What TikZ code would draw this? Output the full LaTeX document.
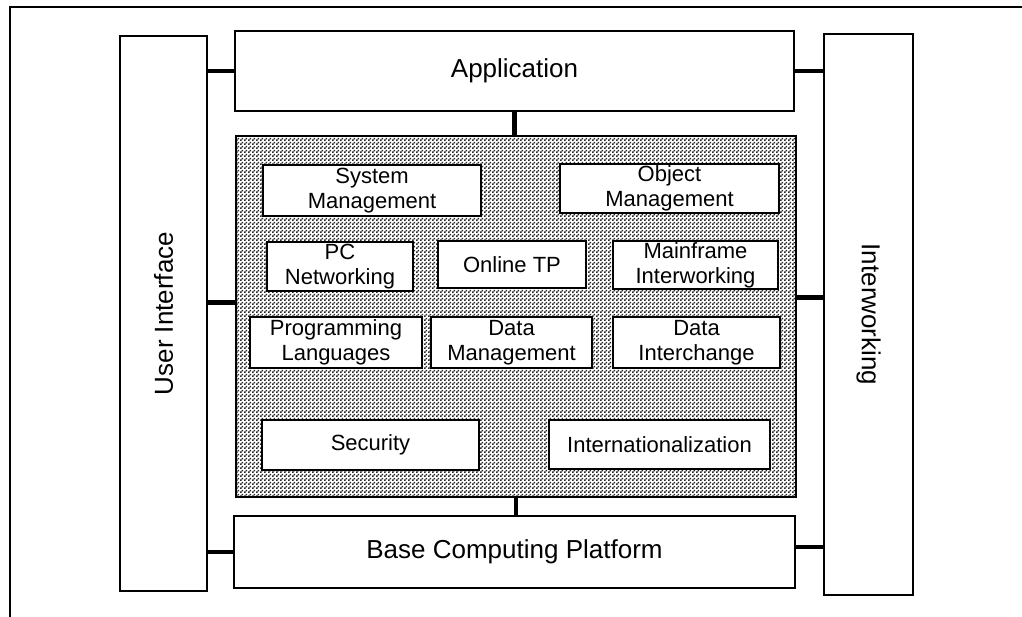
\documentclass[tikz,border=0pt]{standalone}
\usepackage{fontspec}
\setmainfont{Liberation Sans}
\usetikzlibrary{patterns}
\pgfdeclarepatternformonly{finechecker}{\pgfpointorigin}{\pgfpoint{4pt}{4pt}}{\pgfpoint{4pt}{4pt}}{%
  \pgfpathrectangle{\pgfpointorigin}{\pgfpoint{2pt}{2pt}}%
  \pgfpathrectangle{\pgfpoint{2pt}{2pt}}{\pgfpoint{2pt}{2pt}}%
  \pgfusepath{fill}}
\tikzset{
  box/.style={draw=black, line width=1.8pt, fill=white, rectangle, inner sep=0pt, align=center},
  bigbox/.style={box, font=\fontsize{26}{30}\selectfont},
  smallbox/.style={box, font=\fontsize{22}{25}\selectfont},
  link/.style={line width=4.5pt},
}
\begin{document}
\begin{tikzpicture}[x=1pt,y=-1pt]
\useasboundingbox (0,0) rectangle (1022,616);
\clip (0,0) rectangle (1022,616);
\draw[line width=1.5pt] (10,7) rectangle (1040,640);
% side and layer boxes
\node[bigbox, minimum width=87pt, minimum height=555pt] (ui) at (163.5,313.5) {\rotatebox{90}{User Interface}};
\node[bigbox, minimum width=89pt, minimum height=561pt] (iw) at (868.5,314.5) {\rotatebox{-90}{Interworking}};
\node[bigbox, minimum width=559pt, minimum height=80pt] (app) at (514.5,71) {Application};
\node[bigbox, minimum width=561pt, minimum height=72pt] (base) at (514.5,552) {Base Computing Platform};
\node[draw=black, line width=2pt, pattern=finechecker, pattern color=black!85, rectangle, minimum width=560pt, minimum height=361pt, inner sep=0pt] (core) at (516,316.5) {};
% inner boxes
\node[smallbox, minimum width=218pt, minimum height=51pt] (sysm) at (372,190.5) {System\\Management};
\node[smallbox, minimum width=219pt, minimum height=49pt] (objm) at (669.5,188.5) {Object\\Management};
\node[smallbox, minimum width=146pt, minimum height=49pt] (pcn) at (340,266.5) {PC\\Networking};
\node[smallbox, minimum width=148pt, minimum height=47pt] (otp) at (512,264.5) {Online TP};
\node[smallbox, minimum width=165pt, minimum height=48pt] (mfi) at (695.5,265) {Mainframe\\Interworking};
\node[smallbox, minimum width=172pt, minimum height=51pt] (prog) at (336,342.5) {Programming\\Languages};
\node[smallbox, minimum width=161pt, minimum height=51pt] (dm) at (511.5,342.5) {Data\\Management};
\node[smallbox, minimum width=167pt, minimum height=51pt] (di) at (696.5,342.5) {Data\\Interchange};
\node[smallbox, minimum width=217pt, minimum height=50pt] (sec) at (370.5,445) {Security};
\node[smallbox, minimum width=221pt, minimum height=49pt] (intl) at (659.5,444.5) {Internationalization};
% connectors
\draw[link] (app.west) -- (app.west -| ui.east);
\draw[link] (app.east) -- (app.east -| iw.west);
\draw[link] (base.west) -- (base.west -| ui.east);
\draw[link] ([yshift=5pt]base.east) -- ([yshift=5pt]base.east -| iw.west);
\draw[link] ([yshift=14pt]core.west) -- ([yshift=14pt]core.west -| ui.east);
\draw[link] ([yshift=19pt]core.east) -- ([yshift=19pt]core.east -| iw.west);
\draw[link] (app.south) -- (app.south |- core.north);
\draw[link] (core.south) -- (core.south |- base.north);
\end{tikzpicture}
\end{document}
